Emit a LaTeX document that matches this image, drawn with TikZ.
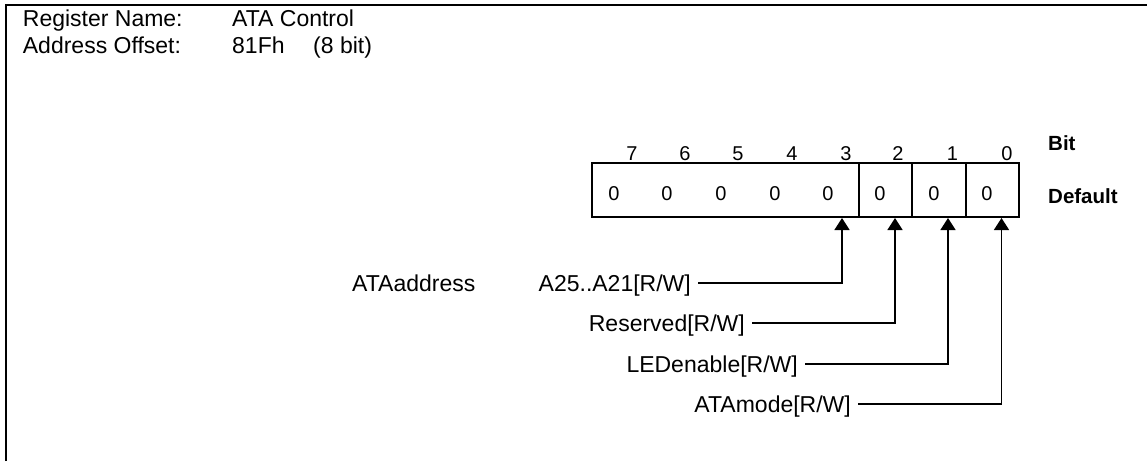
\documentclass[tikz,border=0pt]{standalone}
\usepackage{fontspec}
\setmainfont{Liberation Sans}
\usetikzlibrary{arrows.meta}
\begin{document}
\begin{tikzpicture}[x=1pt,y=-1pt,
  txt/.style={font=\fontsize{23}{27}\selectfont, inner sep=0pt},
  hdr/.style={font=\bfseries\fontsize{20.5}{24}\selectfont, inner sep=0pt, anchor=base west},
  dig/.style={font=\fontsize{20}{24}\selectfont, inner sep=0pt, anchor=base},
  cell/.style={draw, line width=1.8pt, minimum height=54pt, inner sep=0pt},
  lbl/.style={txt, anchor=east, inner xsep=7pt, inner ysep=0pt, text height=16.5pt, text depth=0pt},
  conn/.style={line width=1.5pt, -{Triangle[length=12pt,width=15pt]}}]
\useasboundingbox (0,0) rectangle (1147,461);
\draw[line width=2pt] (6,461) -- (6,5) -- (1147,5);
% header
\node[txt, anchor=base west] (rn) at (22.7,26) {Register Name:};
\node[txt, anchor=base west] (rv) at (232,26) {ATA Control};
\node[txt, anchor=base west] (an) at (22.7,53) {Address Offset:};
\node[txt, anchor=base west] (av) at (232,53) {81Fh};
\node[txt, anchor=base west] (aw) at (313,53) {(8 bit)};
% register cells
\node[cell, minimum width=267pt] (g73) at (725.5,190) {};
\node[cell, minimum width=53.3pt] (c2) at (885.7,190) {};
\node[cell, minimum width=53.4pt] (c1) at (939,190) {};
\node[cell, minimum width=53.3pt] (c0) at (992.3,190) {};
% bit numbers
\foreach \n/\x in {7/632,6/685,5/738,4/792,3/846,2/898,1/952.5,0/1007}
  \node[dig] (b\n) at (\x,160) {\n};
% defaults
\foreach \n/\x in {7/614,6/667,5/721,4/775,3/828,2/880,1/934,0/987}
  \node[dig] (d\n) at (\x,200) {0};
\node[hdr] (bit) at (1048,150) {Bit};
\node[hdr] (def) at (1048,203) {Default};
% field labels
\node[txt, anchor=base west] (aa) at (352,291) {ATAaddress};
\node[lbl] (la) at (698,283) {A25..A21[R/W]};
\node[lbl] (lr) at (752,323) {Reserved[R/W]};
\node[lbl] (ll) at (805,364) {LEDenable[R/W]};
\node[lbl] (lm) at (858,404) {ATAmode[R/W]};
\coordinate (ta) at (842,218);
\coordinate (tr) at (895,218);
\coordinate (tl) at (948,218);
\coordinate (tm) at (1001.5,218);
\draw[conn] (la.east) -| (ta);
\draw[conn] (lr.east) -| (tr);
\draw[conn] (ll.east) -| (tl);
\draw[conn] (lm.east) -| (tm);
\end{tikzpicture}
\end{document}
